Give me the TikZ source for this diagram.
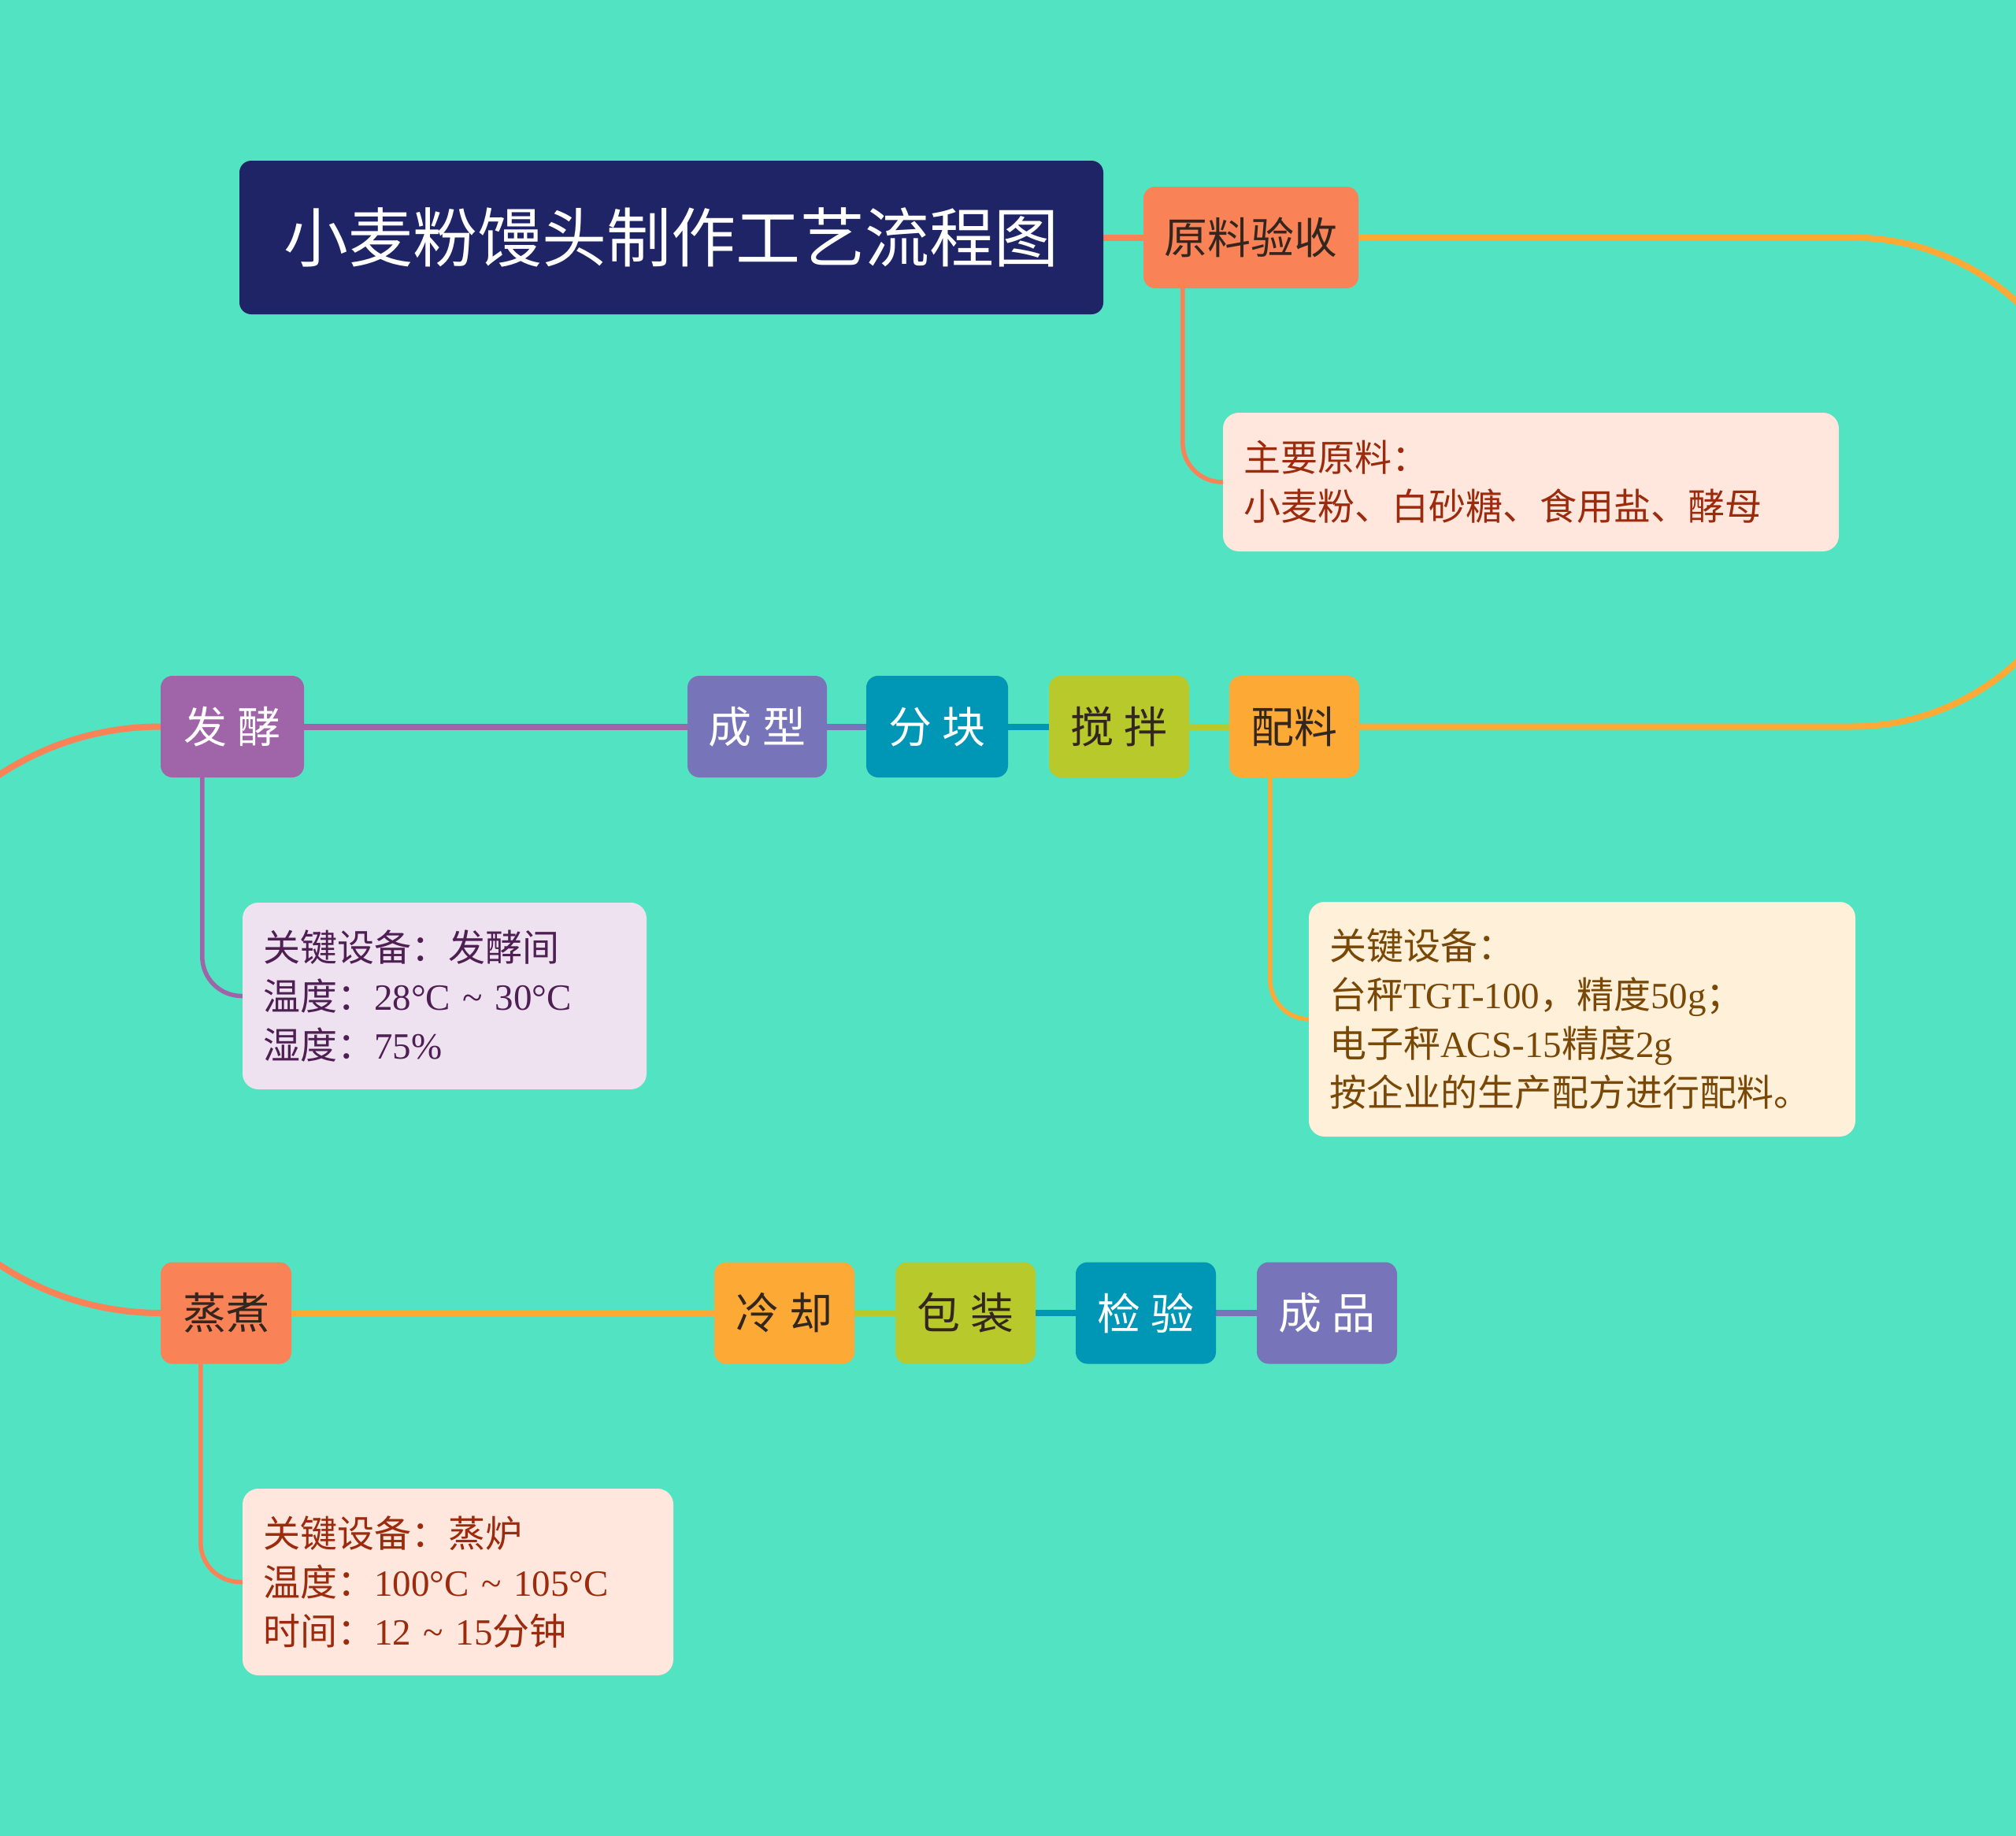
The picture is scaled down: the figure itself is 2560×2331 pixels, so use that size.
\documentclass[tikz,border=0pt]{standalone}
\usepackage{fontspec}
\setmainfont{Liberation Serif}
\newfontfamily\cjk{Noto Sans CJK SC}
\newcommand\zh[1]{{\cjk #1}}
\usetikzlibrary{backgrounds}
\definecolor{bg}{HTML}{51E3C2}
\definecolor{cNavy}{HTML}{1F2466}
\definecolor{cCoral}{HTML}{F98257}
\definecolor{cOrange}{HTML}{FCA936}
\definecolor{cYG}{HTML}{B8C92B}
\definecolor{cTeal}{HTML}{0097B6}
\definecolor{cPB}{HTML}{7874BA}
\definecolor{cPurple}{HTML}{A064A8}
\definecolor{cDark}{HTML}{33261F}
\definecolor{nPeach}{HTML}{FFE7DD}
\definecolor{tPeach}{HTML}{9C2B0E}
\definecolor{nLav}{HTML}{EEE1F0}
\definecolor{tLav}{HTML}{4E1F52}
\definecolor{nCream}{HTML}{FFF0DA}
\definecolor{tCream}{HTML}{7A4806}
\newcommand\tld{\textasciitilde}
\begin{document}
\begin{tikzpicture}[x=1pt,y=-1pt,
  topic/.style={rounded corners=15pt, inner sep=0pt, minimum height=129pt,
    font=\cjk\fontsize{55}{60}\selectfont},
  darktxt/.style={text=cDark},
  whitetxt/.style={text=white},
  note/.style={rounded corners=20pt, inner xsep=26pt, inner ysep=0pt, align=left,
    font=\fontsize{47}{62}\selectfont},
  conn/.style={line width=8pt},
  subline/.style={line width=5.5pt, rounded corners=50pt}]
\useasboundingbox (0,0) rectangle (2560,2331);
\clip (0,0) rectangle (2560,2331);

% title
\node[fill=cNavy, rounded corners=15pt, minimum width=1097pt, minimum height=195pt,
  inner sep=0pt, text=white, font=\cjk\fontsize{82}{90}\selectfont]
  (title) at (852.5,301.5) {小麦粉馒头制作工艺流程图};

% top row
\node[topic, darktxt, fill=cCoral, minimum width=273pt] (ylys) at (1588.5,301.5) {原料验收};

% middle row
\node[topic, darktxt, fill=cOrange, minimum width=165pt] (peiliao) at (1643.5,922.5) {配料};
\node[topic, darktxt, fill=cYG, minimum width=178pt] (jiaoban) at (1421,922.5) {搅\hspace{0.25em}拌};
\node[topic, whitetxt, fill=cTeal, minimum width=180pt] (fenkuai) at (1190,922.5) {分\hspace{0.25em}块};
\node[topic, whitetxt, fill=cPB, minimum width=177pt] (chengxing) at (961.5,922.5) {成\hspace{0.25em}型};
\node[topic, whitetxt, fill=cPurple, minimum width=182pt] (fajiao) at (295,922.5) {发\hspace{0.25em}酵};

% bottom row
\node[topic, darktxt, fill=cCoral, minimum width=166pt] (zhengzhu) at (287,1667) {蒸煮};
\node[topic, darktxt, fill=cOrange, minimum width=178pt] (lengque) at (996,1667) {冷\hspace{0.25em}却};
\node[topic, darktxt, fill=cYG, minimum width=178pt] (baozhuang) at (1226,1667) {包\hspace{0.25em}装};
\node[topic, whitetxt, fill=cTeal, minimum width=178pt] (jianyan) at (1455,1667) {检\hspace{0.25em}验};
\node[topic, whitetxt, fill=cPB, minimum width=178pt] (chengpin) at (1685,1667) {成\hspace{0.25em}品};

% notes
\node[note, fill=nPeach, text=tPeach, text width=730pt, minimum height=176pt] (n1) at (1944,612)
  {\zh{主要原料：}\\\zh{小麦粉、白砂糖、食用盐、酵母}};
\node[note, fill=nLav, text=tLav, text width=461pt, minimum height=237pt] (n2) at (564.5,1264.5)
  {\zh{关键设备：发酵间}\\\zh{温度：}28°C \tld{} 30°C\\\zh{湿度：}75\%};
\node[note, fill=nCream, text=tCream, text width=642pt, minimum height=298pt] (n3) at (2009,1294)
  {\zh{关键设备：}\\\zh{台秤}TGT-100\zh{，精度}50g\zh{；}\\\zh{电子秤}ACS-15\zh{精度}2g\\\zh{按企业的生产配方进行配料。}};
\node[note, fill=nPeach, text=tPeach, text width=495pt, minimum height=237pt] (n4) at (581.5,2008.5)
  {\zh{关键设备：蒸炉}\\\zh{温度：}100°C \tld{} 105°C\\\zh{时间：}12 \tld{} 15\zh{分钟}};

\begin{scope}[on background layer]
\fill[bg] (0,0) rectangle (2560,2331);
% main flow
\draw[conn, cCoral] (title.east) -- (ylys.west);
\draw[conn, cOrange] (ylys.east) -- (2351,301.5)
  .. controls (2522.5,301.5) and (2661.5,440.5) .. (2661.5,612)
  .. controls (2661.5,783.5) and (2522.5,922.5) .. (2351,922.5) -- (peiliao.east);
\draw[conn, cYG] (jiaoban.east) -- (peiliao.west);
\draw[conn, cTeal] (fenkuai.east) -- (jiaoban.west);
\draw[conn, cPB] (chengxing.east) -- (fenkuai.west);
\draw[conn, cPurple] (fajiao.east) -- (chengxing.west);
\draw[conn, cCoral] (fajiao.west)
  .. controls (-1.7,922.5) and (-168.5,1088.8) .. (-168.5,1294.5)
  .. controls (-168.5,1500.2) and (-1.7,1667) .. (zhengzhu.west);
\draw[conn, cOrange] (zhengzhu.east) -- (lengque.west);
\draw[conn, cYG] (lengque.east) -- (baozhuang.west);
\draw[conn, cTeal] (baozhuang.east) -- (jianyan.west);
\draw[conn, cPB] (jianyan.east) -- (chengpin.west);
% notes
\draw[subline, cCoral] (ylys.south west) ++(50,0) |- (n1.west);
\draw[subline, cPurple] (fajiao.south west) ++(53,0) |- (n2.west);
\draw[subline, cOrange] (peiliao.south west) ++(52,0) |- (n3.west);
\draw[subline, cCoral] (zhengzhu.south west) ++(51,0) |- (n4.west);
\end{scope}
\end{tikzpicture}
\end{document}
